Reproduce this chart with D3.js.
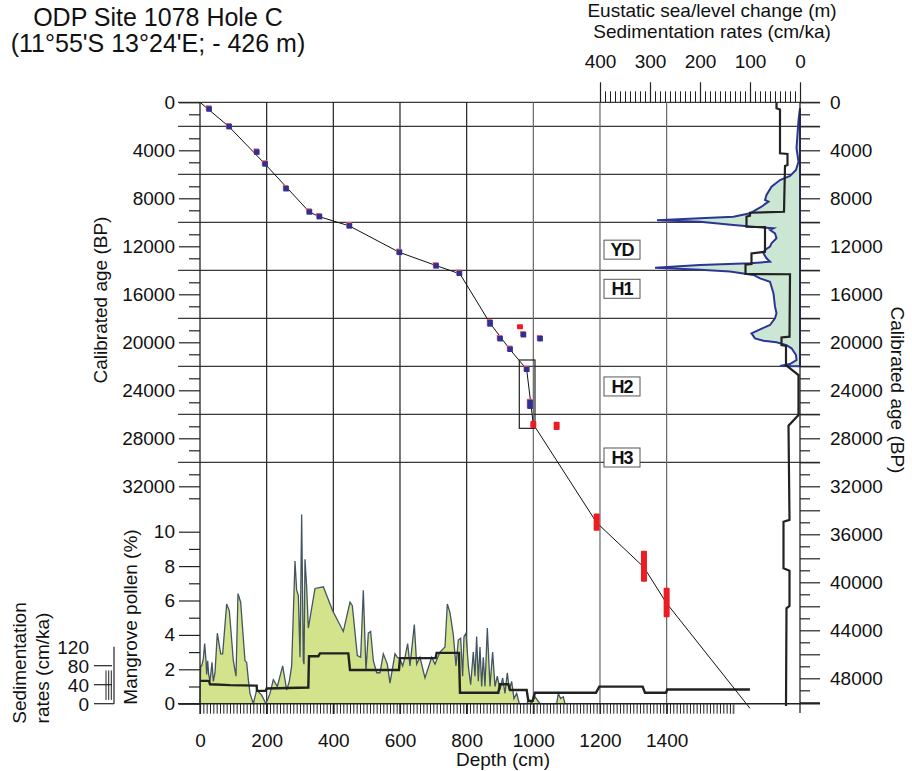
<!DOCTYPE html>
<html>
<head>
<meta charset="utf-8">
<script src="https://cdn.jsdelivr.net/npm/d3@7"></script>
<style>
  body { margin: 0; background: #fff; }
  svg text { font-family: "Liberation Sans", Arial, sans-serif; fill: #111; }
</style>
</head>
<body>
<script>
// ---- data ----
// age-depth model (depth cm, calibrated age BP)
const modelDepth = [0, 87, 195, 328, 358, 448, 598, 708, 780, 870, 930, 980, 1000, 1190, 1330, 1340, 1400, 1650];
const modelAge   = [0, 2030, 5140, 9140, 9530, 10300, 12500, 13600, 14300, 18400, 20600, 22250, 26830, 35030, 38700, 39110, 41750, 50500];

// dated levels (blue) with half ranges in years
const dateDepth = [27, 87, 170, 195, 258, 328, 358, 448, 598, 708, 778, 870, 900, 930, 970, 1020, 980, 990];
const dateAge   = [560, 2030, 4150, 5140, 7200, 9140, 9530, 10300, 12500, 13630, 14250, 18420, 19700, 20580, 19370, 19700, 22250, 25170];
const dateErr   = [0, 0, 0, 0, 0, 0, 0, 0, 0, 210, 0, 280, 0, 0, 0, 0, 0, 385];

// calibrated ranges only (red)
const redDepth = [960, 1000, 1070, 1190, 1332, 1400];
const redMin   = [18600, 26550, 26620, 34260, 37370, 40450];
const redMax   = [18800, 27150, 27310, 35700, 39950, 42920];

// box around H2 interval
const boxDepth = [958, 1005];
const boxAge   = [21475, 27170];

// events
const eventLabels = ["YD", "H1", "H2", "H3"];
const eventAges   = [12280, 15540, 23680, 29600];

// eustatic sea level curve (right panel, top scale)
const seaAge   = [500, 1500, 3830, 4950, 5640, 6140, 6480, 7030, 7720, 8140, 8280, 8700, 9250, 9530, 9670, 9830, 9950, 10230, 10370, 10500, 10640, 10920, 11330, 11750, 12030, 12310, 12590, 13000, 13280, 13420, 13560, 13780, 13950, 14110, 14390, 14670, 14950, 15370, 15920, 17030, 17580, 18000, 18560, 18980, 19250, 19670, 19870, 20000, 20230, 20500, 21060, 21480, 21810, 21980, 22000];
const seaLevel = [0, 3, 7, 3, 8, 20, 40, 57, 67, 70, 63, 77, 100, 133, 200, 286, 200, 133, 93, 53, 60, 50, 47, 57, 60, 70, 73, 67, 60, 100, 200, 290, 200, 140, 93, 80, 60, 57, 53, 50, 47, 50, 60, 83, 97, 90, 73, 47, 27, 17, 8, 7, 20, 40, 0];

// sedimentation rates vs age (right panel)
const sedAge  = [0, 500, 600, 4250, 4300, 5220, 5300, 9120, 9200, 9450, 9530, 10370, 10400, 12450, 12500, 12590, 13470, 13520, 14310, 14330, 19530, 19600, 20230, 20300, 21900, 22730, 26060, 26950, 34800, 34950, 38830, 39030, 41970, 42170, 50300];
const sedRate = [47, 47, 40, 40, 25, 25, 30, 32, 100, 100, 107, 107, 70, 70, 80, 97, 97, 109, 109, 20, 21, 37, 37, 28, 28, 3, 3, 23, 21, 33, 33, 21, 21, 27, 28];

// mangrove pollen (%) vs depth
const pollenDepth = [0, 2, 5, 10, 14, 18, 20, 23, 26, 30, 36, 40, 45, 52, 62, 68, 80, 88, 100, 108, 114, 122, 135, 140, 145, 150, 160, 170, 185, 198, 210, 220, 232, 248, 260, 268, 275, 285, 290, 295, 300, 305, 310, 312, 315, 320, 325, 345, 370, 398, 430, 450, 457, 472, 482, 490, 498, 505, 512, 520, 530, 540, 550, 562, 570, 585, 592, 600, 608, 615, 623, 630, 643, 650, 660, 675, 695, 705, 720, 735, 742, 750, 760, 768, 775, 782, 788, 792, 798, 805, 812, 820, 825, 830, 835, 840, 845, 850, 855, 862, 870, 878, 885, 892, 900, 908, 915, 922, 928, 935, 942, 950, 958, 980, 988, 995, 1005, 1020, 1070, 1075, 1082, 1090, 1095, 1100];
const pollenPct   = [0, 2.2, 2.2, 2.6, 3.5, 2.5, 1.7, 2.5, 1.7, 1.3, 2.4, 1.3, 1.8, 4.1, 2.9, 2.9, 5.8, 5.4, 2.5, 1.6, 6.4, 5.9, 2.5, 2.4, 1.4, 0.6, 0, 0.8, 0.5, 0, 0.6, 1.4, 1.0, 2.2, 0.8, 1.3, 2.2, 8.3, 6.6, 6.3, 2.7, 11.0, 2.5, 2.3, 8.4, 6.8, 4.4, 6.7, 6.8, 5.4, 4.2, 5.9, 5.7, 2.8, 2.7, 6.6, 1.9, 4.1, 4.2, 2.5, 1.8, 1.8, 2.9, 2.3, 1.2, 2.9, 2.7, 2.6, 2.2, 2.7, 3.5, 2.2, 4.6, 2.3, 2.7, 1.5, 2.7, 2.3, 3.0, 3.3, 5.8, 5.3, 4.0, 2.2, 3.7, 3.8, 1.6, 3.9, 4.1, 2.2, 1.1, 3.0, 1.6, 3.9, 1.3, 3.3, 1.0, 2.7, 1.0, 4.4, 1.0, 3.0, 1.0, 1.6, 0.8, 1.5, 0.6, 1.8, 0.8, 1.3, 0.3, 0.6, 0, 0, 0.2, 0, 0.4, 0, 0, 0.6, 0.3, 0.4, 0, 0];

// sedimentation rates vs depth (bottom panel)
const sedDepth  = [0, 27, 30, 90, 170, 171, 197, 200, 325, 327, 355, 360, 445, 450, 597, 600, 707, 710, 777, 780, 895, 900, 925, 930, 980, 985, 998, 1005, 1188, 1198, 1328, 1335, 1398, 1402, 1650];
const sedDepthRate = [48, 48, 41, 39, 38, 27, 27, 32, 34, 100, 100, 106, 106, 71, 71, 96, 96, 107, 107, 23, 23, 41, 41, 29, 29, 6, 6, 23, 23, 36, 36, 23, 23, 30, 30];

// tick values
const depthTicks = [0, 200, 400, 600, 800, 1000, 1200, 1400];
const ageTicks = d3.range(0, 32001, 4000);
const ageTicksRight = d3.range(0, 48001, 4000);
const ageGrid = d3.range(2000, 30001, 4000);
const pollenTicks = [0, 2, 4, 6, 8, 10];
const seaTicks = [0, 100, 200, 300, 400];
const sedTicks = [0, 40, 80, 120];

// ---- scales ----
const W = 912, H = 771;
const xDepth = d3.scaleLinear().domain([0, 1600]).range([200, 733.3]);
const yAge = d3.scaleLinear().domain([0, 50000]).range([102.3, 702.3]);
const yPollen = d3.scaleLinear().domain([0, 10]).range([703.7, 531.7]);
const ySed = d3.scaleLinear().domain([0, 120]).range([703.7, 646.7]);
const xSea = d3.scaleLinear().domain([0, 400]).range([800, 600]);

const svg = d3.select("body").append("svg").attr("width", W).attr("height", H);
const fs = "19px";
const gridCol = "#3a3a3a";

// ---- grid lines ----
const grid = svg.append("g");
grid.selectAll(".hg").data([0].concat(ageGrid)).enter().append("line")
  .attr("x1", 178).attr("x2", 820)
  .attr("y1", d => yAge(d)).attr("y2", d => yAge(d))
  .attr("stroke", gridCol).attr("stroke-width", 1.3);
grid.selectAll(".vg").data(depthTicks.slice(1)).enter().append("line")
  .attr("x1", d => xDepth(d)).attr("x2", d => xDepth(d))
  .attr("y1", yAge(0)).attr("y2", 714)
  .attr("stroke", d => d >= 1000 ? "#666" : "#222").attr("stroke-width", 1.2);

// ---- mangrove pollen ----
const pollen = pollenDepth.map((d, i) => ({ d: d, p: pollenPct[i] }));
svg.append("path").datum(pollen)
  .attr("d", d3.area().x(d => xDepth(d.d)).y0(yPollen(0)).y1(d => yPollen(d.p)))
  .attr("fill", "#d3e38c");
svg.append("path").datum(pollen)
  .attr("d", d3.line().x(d => xDepth(d.d)).y(d => yPollen(d.p)))
  .attr("fill", "none").attr("stroke", "#435463").attr("stroke-width", 1.3);

// sedimentation rate vs depth
const sedD = sedDepth.map((d, i) => ({ d: d, r: sedDepthRate[i] }));
svg.append("path").datum(sedD)
  .attr("d", d3.line().x(d => xDepth(d.d)).y(d => ySed(d.r)))
  .attr("fill", "none").attr("stroke", "#222").attr("stroke-width", 2.4);

// ---- right panel: sea level + sed rates ----
const sea = seaAge.map((a, i) => ({ a: a, v: seaLevel[i] }));
svg.append("path").datum(sea)
  .attr("d", d3.area().y(d => yAge(d.a)).x0(xSea(0)).x1(d => xSea(d.v)))
  .attr("fill", "#cbe7d3");
svg.append("path").datum(sea)
  .attr("d", d3.line().y(d => yAge(d.a)).x(d => xSea(d.v)))
  .attr("fill", "none").attr("stroke", "#2b3595").attr("stroke-width", 2);
svg.append("line")
  .attr("x1", xSea(0)).attr("x2", xSea(0))
  .attr("y1", yAge(seaAge[0])).attr("y2", yAge(22000))
  .attr("stroke", "#2b3595").attr("stroke-width", 2);

const sedA = sedAge.map((a, i) => ({ a: a, r: sedRate[i] }));
svg.append("path").datum(sedA)
  .attr("d", d3.line().y(d => yAge(d.a)).x(d => xSea(d.r)))
  .attr("fill", "none").attr("stroke", "#222").attr("stroke-width", 2.2);

// ---- age model ----
const model = modelDepth.map((d, i) => ({ d: d, a: modelAge[i] }));
svg.append("path").datum(model)
  .attr("d", d3.line().x(d => xDepth(d.d)).y(d => yAge(d.a)))
  .attr("fill", "none").attr("stroke", "#111").attr("stroke-width", 1);

// H2 box
svg.append("rect")
  .attr("x", xDepth(boxDepth[0])).attr("y", yAge(boxAge[0]))
  .attr("width", xDepth(boxDepth[1]) - xDepth(boxDepth[0]))
  .attr("height", yAge(boxAge[1]) - yAge(boxAge[0]))
  .attr("fill", "none").attr("stroke", "#222").attr("stroke-width", 1.2);

// red ranges
const reds = redDepth.map((d, i) => ({ d: d, lo: redMin[i], hi: redMax[i] }));
svg.selectAll(".red").data(reds).enter().append("rect")
  .attr("x", d => xDepth(d.d) - 3)
  .attr("y", d => Math.min(yAge(d.lo), (yAge(d.lo) + yAge(d.hi)) / 2 - 2.5))
  .attr("width", 6)
  .attr("height", d => Math.max(5, yAge(d.hi) - yAge(d.lo)))
  .attr("rx", 1)
  .attr("fill", "#ec1c24");

// blue dated levels with red fringe
const dates = dateDepth.map((d, i) => ({ d: d, a: dateAge[i], e: dateErr[i] }));
const hgt = d => Math.max(5.5, yAge(d.a + d.e) - yAge(d.a - d.e));
svg.selectAll(".dr").data(dates).enter().append("rect")
  .attr("x", d => xDepth(d.d) - 3.2)
  .attr("y", d => yAge(d.a) - hgt(d) / 2 - 1)
  .attr("width", 5.5).attr("height", d => hgt(d))
  .attr("fill", "#f0646a");
svg.selectAll(".db").data(dates).enter().append("rect")
  .attr("x", d => xDepth(d.d) - 2.6)
  .attr("y", d => yAge(d.a) - hgt(d) / 2)
  .attr("width", 5.5).attr("height", d => hgt(d))
  .attr("fill", "#2e3192");

// event boxes
const ev = svg.selectAll(".ev").data(eventLabels).enter().append("g")
  .attr("transform", (d, i) => `translate(622,${yAge(eventAges[i])})`);
ev.append("rect").attr("x", -18).attr("y", -9.5).attr("width", 36).attr("height", 19)
  .attr("fill", "#fff").attr("stroke", "#555").attr("stroke-width", 1);
ev.append("text").text(d => d)
  .attr("text-anchor", "middle").attr("dy", "0.36em")
  .attr("font-size", "18px").attr("font-weight", "bold").attr("letter-spacing", "-1");

// ---- axes ----
function styleAxis(g) {
  g.select(".domain").remove();
  g.selectAll(".tick line").attr("stroke", "#222").attr("stroke-width", 1.2);
  g.selectAll("text").attr("font-size", fs).attr("fill", "#111")
    .attr("font-family", "'Liberation Sans', Arial, sans-serif");
}

// left age axis
svg.append("g").attr("transform", "translate(200,0)")
  .call(d3.axisLeft(yAge).tickValues(ageTicks).tickSize(21).tickPadding(4).tickFormat(d3.format("d")))
  .call(styleAxis);
svg.append("g").attr("transform", "translate(200,0)")
  .call(d3.axisLeft(yAge).tickValues(d3.range(1000, 33001, 2000)).tickSize(11).tickFormat(""))
  .call(styleAxis);

// mangrove axis
svg.append("g").attr("transform", "translate(200,0)")
  .call(d3.axisLeft(yPollen).tickValues(pollenTicks).tickSize(21).tickPadding(4))
  .call(styleAxis);
svg.append("g").attr("transform", "translate(200,0)")
  .call(d3.axisLeft(yPollen).tickValues([1, 3, 5, 7, 9]).tickSize(11).tickFormat(""))
  .call(styleAxis);

// right age axis
svg.append("g").attr("transform", "translate(800,0)")
  .call(d3.axisRight(yAge).tickValues(ageTicksRight).tickSize(20).tickPadding(10).tickFormat(d3.format("d")))
  .call(styleAxis);
svg.append("g").attr("transform", "translate(800,0)")
  .call(d3.axisRight(yAge).tickValues(d3.range(2000, 50001, 4000)).tickSize(20).tickFormat(""))
  .call(styleAxis);
svg.append("g").attr("transform", "translate(800,0)")
  .call(d3.axisRight(yAge).tickValues(d3.range(1000, 50001, 2000)).tickSize(10).tickFormat(""))
  .call(styleAxis);

// depth axis
svg.append("g").attr("transform", `translate(0,${yPollen(0)})`)
  .call(d3.axisBottom(xDepth).tickValues(depthTicks).tickSize(10).tickPadding(20).tickFormat(d3.format("d")))
  .call(styleAxis);
svg.append("g").attr("transform", `translate(0,${yPollen(0)})`)
  .call(d3.axisBottom(xDepth).tickValues(d3.range(0, 1601, 10)).tickSize(10).tickFormat(""))
  .call(g => { styleAxis(g); g.selectAll(".tick line").attr("stroke-width", 1); });

// top sea level / sed-rate axis
svg.append("g").attr("transform", `translate(0,${yAge(0)})`)
  .call(d3.axisTop(xSea).tickValues(seaTicks).tickSize(20).tickPadding(14))
  .call(styleAxis);
svg.append("g").attr("transform", `translate(0,${yAge(0)})`)
  .call(d3.axisTop(xSea).tickValues(d3.range(10, 400, 10)).tickSize(11).tickFormat(""))
  .call(g => { styleAxis(g); g.selectAll(".tick line").attr("stroke-width", 1); });

// small sed-rate scale (bottom left)
const sa = svg.append("g");
sa.append("line").attr("x1", 114).attr("x2", 114).attr("y1", ySed(120)).attr("y2", ySed(0))
  .attr("stroke", "#222").attr("stroke-width", 1.2);
sa.selectAll(".st").data([0, 40, 80]).enter().append("line")
  .attr("x1", 94).attr("x2", d => d === 0 ? 114 : 112)
  .attr("y1", d => ySed(d)).attr("y2", d => ySed(d))
  .attr("stroke", "#222").attr("stroke-width", 1.2);
sa.selectAll(".sv").data([106, 108.7, 111.3]).enter().append("line")
  .attr("x1", d => d).attr("x2", d => d)
  .attr("y1", ySed(70)).attr("y2", ySed(8))
  .attr("stroke", "#222").attr("stroke-width", 1);
sa.selectAll(".sl").data(sedTicks).enter().append("text")
  .text(d => d).attr("x", 89).attr("y", d => ySed(d)).attr("dy", "0.36em")
  .attr("text-anchor", "end").attr("font-size", fs);

// baseline + axis lines
svg.append("line").attr("x1", 178).attr("x2", 820).attr("y1", yPollen(0)).attr("y2", yPollen(0))
  .attr("stroke", "#222").attr("stroke-width", 1.4);
svg.append("line").attr("x1", 200).attr("x2", 200).attr("y1", yAge(0)).attr("y2", 714)
  .attr("stroke", "#222").attr("stroke-width", 1.3);
svg.append("line").attr("x1", 800).attr("x2", 800).attr("y1", yAge(0)).attr("y2", 713)
  .attr("stroke", "#222").attr("stroke-width", 1.3);
svg.append("line").attr("x1", xDepth(1600)).attr("x2", xDepth(1600)).attr("y1", yPollen(0)).attr("y2", 714)
  .attr("stroke", "#666").attr("stroke-width", 1.2);

// ---- titles and axis labels ----
function label(txt, x, y, rot, anchor) {
  svg.append("text").text(txt)
    .attr("transform", `translate(${x},${y}) rotate(${rot || 0})`)
    .attr("text-anchor", anchor || "middle").attr("font-size", fs);
}
svg.append("text").text("ODP Site 1078 Hole C").attr("x", 158).attr("y", 26)
  .attr("text-anchor", "middle").attr("font-size", "25px");
svg.append("text").text("(11°55'S 13°24'E; - 426 m)").attr("x", 158).attr("y", 52)
  .attr("text-anchor", "middle").attr("font-size", "25px");
label("Eustatic sea/level change (m)", 712, 17);
label("Sedimentation rates (cm/ka)", 712, 38);
label("Calibrated age (BP)", 107, 300, -90);
label("Calibrated age (BP)", 891, 390, 90);
label("Mangrove pollen (%)", 137, 617, -90);
label("Sedimentation", 26, 663, -90);
label("rates (cm/ka)", 49, 668, -90);
label("Depth (cm)", 503, 766);
</script>
</body>
</html>
